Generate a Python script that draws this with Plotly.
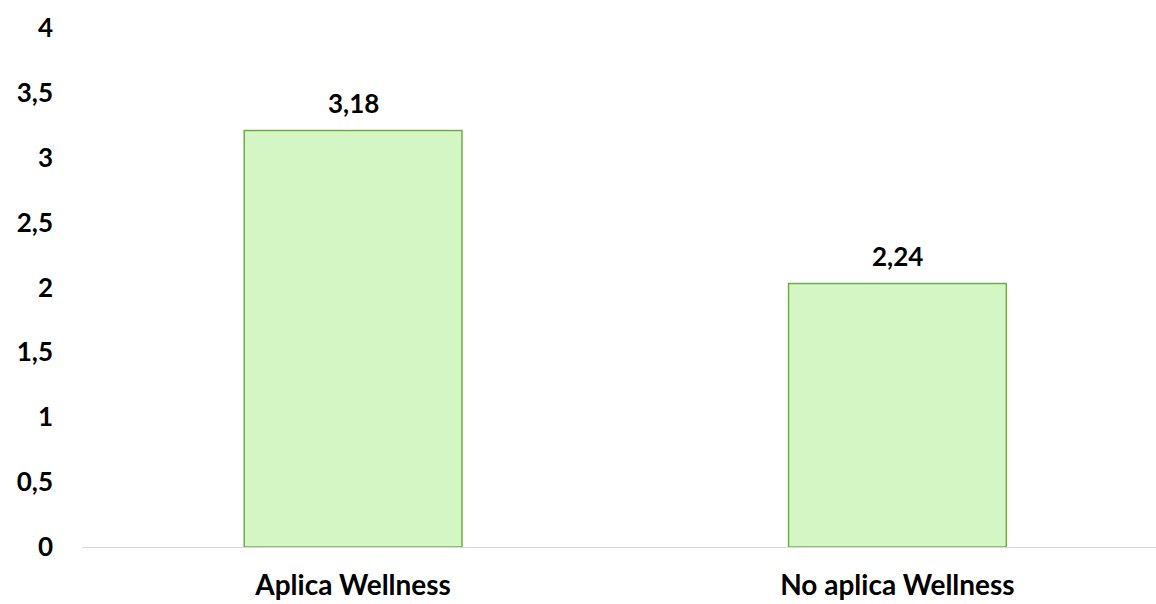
import plotly.graph_objects as go

categories = ["Aplica Wellness", "No aplica Wellness"]
bar_heights = [3.21, 2.03]
value_labels = ["3,18", "2,24"]
y_ticks = [0, 0.5, 1, 1.5, 2, 2.5, 3, 3.5, 4]
y_tick_labels = ["0", "0,5", "1", "1,5", "2", "2,5", "3", "3,5", "4"]

x_pos = list(range(len(categories)))
FONT = "Lato"

fig = go.Figure()
fig.add_trace(go.Bar(
    x=x_pos, y=bar_heights, width=0.4,
    marker=dict(color="#d4f6c5", line=dict(color="#70ad47", width=1.5)),
    hoverinfo="skip", showlegend=False,
))
for xi, v, lab in zip(x_pos, bar_heights, value_labels):
    fig.add_annotation(x=xi, y=v, text=f"<b>{lab}</b>", showarrow=False,
                       yanchor="bottom", yshift=10,
                       font=dict(family=FONT, size=26, color="#000"))

fig.update_layout(
    width=1156, height=604,
    margin=dict(l=82, r=0, t=28, b=57),
    plot_bgcolor="white", paper_bgcolor="white",
    font=dict(family=FONT, color="#000"),
    xaxis=dict(range=[-0.498, 1.475], tickvals=x_pos,
               ticktext=[f"<b>{c}</b>" for c in categories],
               tickfont=dict(size=28, family=FONT), showgrid=False,
               zeroline=False, showline=True, linecolor="#d9d9d9", linewidth=1,
               ticks="", ticklabelstandoff=13, automargin=False),
    yaxis=dict(range=[0, 4], tickvals=y_ticks,
               ticktext=[f"<b>{t}</b>" for t in y_tick_labels],
               tickfont=dict(size=26, family=FONT), showgrid=False,
               zeroline=False, showline=False, ticks="",
               ticklabelstandoff=28, automargin=False),
)
fig.write_html("out.html", config={"displayModeBar": False},
               post_script="document.body.style.margin='0px';")
